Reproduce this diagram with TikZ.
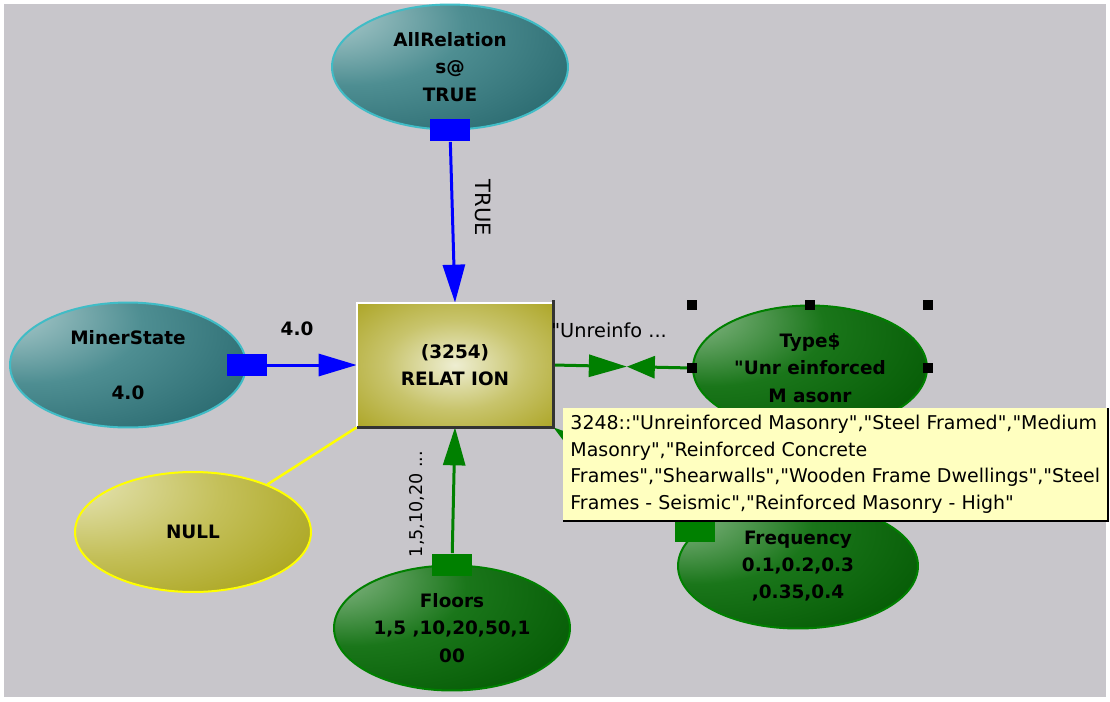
\documentclass[tikz,border=0pt]{standalone}
\usepackage{fontspec}
\setmainfont{DejaVu Sans}[Ligatures=TeXOff]
\usetikzlibrary{arrows.meta,backgrounds,calc,positioning,shapes.geometric}

\definecolor{bggray}{RGB}{200,198,203}
\definecolor{tealhi}{RGB}{214,230,230}
\definecolor{tealmid}{RGB}{78,142,146}
\definecolor{tealdk}{RGB}{34,98,104}
\definecolor{tealrim}{RGB}{64,188,198}
\definecolor{grnhi}{RGB}{205,226,205}
\definecolor{grnmid}{RGB}{26,118,26}
\definecolor{grndk}{RGB}{0,84,0}
\definecolor{grnrim}{RGB}{0,128,0}
\definecolor{olvhi}{RGB}{244,244,222}
\definecolor{olvmid}{RGB}{196,192,90}
\definecolor{olvdk}{RGB}{164,158,16}
\definecolor{olvrim}{RGB}{255,255,0}
\definecolor{relhi}{RGB}{238,238,210}
\definecolor{relmid}{RGB}{200,196,108}
\definecolor{reldk}{RGB}{166,158,22}
\definecolor{tipyel}{RGB}{255,255,192}
\definecolor{lnblue}{RGB}{0,0,255}
\definecolor{lngreen}{RGB}{0,128,0}
\definecolor{lnyel}{RGB}{255,255,0}

\pgfdeclareradialshading{tealball}{\pgfpoint{-30bp}{24bp}}{color(0bp)=(tealhi); color(9bp)=(tealhi!50!tealmid); color(24bp)=(tealmid); color(50bp)=(tealdk); color(80bp)=(tealdk)}
\pgfdeclareradialshading{grnball}{\pgfpoint{-30bp}{24bp}}{color(0bp)=(grnhi); color(9bp)=(grnhi!45!grnmid); color(24bp)=(grnmid); color(50bp)=(grndk); color(80bp)=(grndk)}
\pgfdeclareradialshading{olvball}{\pgfpoint{-30bp}{24bp}}{color(0bp)=(olvhi); color(10bp)=(olvhi!50!olvmid); color(26bp)=(olvmid); color(50bp)=(olvdk); color(80bp)=(olvdk)}
\pgfdeclareradialshading{relshade}{\pgfpoint{0bp}{0bp}}{color(0bp)=(relhi); color(18bp)=(relmid); color(40bp)=(reldk); color(80bp)=(reldk)}

\begin{document}
\begin{tikzpicture}[x=0.02cm,y=-0.02cm]
\tikzstyle{lbl}=[font=\bfseries\fontsize{10.5}{15.6}\selectfont,align=center,inner sep=0pt]
\tikzstyle{bubble}=[ellipse,lbl,minimum width=4.72cm,minimum height=2.5cm,line width=0.04cm]
\tikzstyle{tealnode}=[bubble,draw=tealrim,shading=tealball]
\tikzstyle{grnnode}=[bubble,draw=grnrim,shading=grnball]
\tikzstyle{olvnode}=[bubble,draw=olvrim,shading=olvball]
\tikzstyle{relbox}=[rectangle,lbl,minimum width=3.92cm,minimum height=2.48cm,shading=relshade]
\tikzstyle{plug}=[rectangle,inner sep=0pt,minimum width=0.8cm,minimum height=0.44cm]
\tikzstyle{grip}=[rectangle,fill=black,inner sep=0pt,minimum size=0.2cm]
\tikzstyle{blueline}=[draw=lnblue,line width=0.06cm,-{Triangle[length=0.76cm,width=0.44cm]}]
\tikzstyle{greenline}=[draw=lngreen,line width=0.06cm,-{Triangle[length=0.76cm,width=0.44cm]}]
\tikzstyle{yelline}=[draw=lnyel,line width=0.05cm]
\tikzstyle{elbl}=[font=\fontsize{11}{13}\selectfont,inner sep=0pt]
\tikzstyle{tipbox}=[rectangle,fill=tipyel,anchor=north west,align=left,
  minimum width=10.88cm,minimum height=2.24cm,inner xsep=0.1cm,inner ysep=0pt,
  font=\fontsize{10.8}{15.1}\selectfont]

\useasboundingbox (0,0) rectangle (1110,701);

% nodes
\node[tealnode] (allrel) at (450,67) {AllRelation\\s@\\TRUE};
\node[tealnode] (miner) at (128,365) {MinerState\\~\\4.0};
\node[olvnode,minimum height=2.4cm] (null) at (193,532) {NULL};
\node[relbox] (rel) at (455,365) {(3254)\\RELAT ION};
\node[grnnode] (floors) at (452,628) {Floors\\1,5 ,10,20,50,1\\00};
\node[grnnode,minimum width=4.68cm] (type) at (810,368) {Type\$\\"Unr einforced\\M asonr};
\node[grnnode,minimum width=4.8cm] (freq) at (798,566) {Frequency\\0.1,0.2,0.3\\,0.35,0.4};

% bevel of the relation box
\draw[white,line width=0.04cm] (rel.south west) |- (rel.north east);
\draw[black!80,line width=0.06cm] (rel.south west) -- (rel.south east) -- ($(rel.north east)+(0,-3)$);

% connector ends
\node[plug,fill=lnblue] (allrelp) at (allrel.south) {};
\node[plug,fill=lnblue] (minerp) at (miner.east) {};
\node[plug,fill=lngreen] (floorsp) at (floors.north) {};
\node[plug,fill=lngreen] (freqp) at (695,531) {};

% edge labels
\node[elbl,font=\fontsize{12}{14}\selectfont,rotate=-90] (truelbl) at (483,208) {TRUE};
\node[elbl,font=\bfseries\fontsize{10.5}{13}\selectfont] (minerlbl) at (297,329) {4.0};
\node[elbl,anchor=west] (typelbl) at (551,330) {"Unreinfo ...};
\node[elbl,font=\fontsize{10}{12}\selectfont,rotate=90] (floorslbl) at (417,504) {1,5,10,20 ...};

% selection handles
\foreach \p [count=\i] in {{type.west |- type.north},type.north,{type.east |- type.north},
  type.west,type.east,{type.west |- type.south},type.south,{type.east |- type.south}}
  \node[grip] (grip\i) at (\p) {};

% tooltip
\node[tipbox] (tooltip) at (563,408) {3248::"Unreinforced Masonry","Steel Framed","Medium\\
Masonry","Reinforced Concrete\\
Frames","Shearwalls","Wooden Frame Dwellings","Steel\\
Frames - Seismic","Reinforced Masonry - High"};
\draw[black,line width=0.04cm] (tooltip.south west) -- (tooltip.south east) -- (tooltip.north east);

% connectors
\begin{scope}[on background layer]
\fill[white] (0,0) rectangle (1110,701);
\fill[bggray] (4,4) rectangle (1106,697);
\draw[blueline] (allrelp) -- (rel.north);
\draw[blueline] (minerp) -- (rel.west);
\draw[greenline] (floorsp) -- (rel.south);
\draw[greenline] (freqp) -- (rel.south east);
\draw[yelline] (rel.south west) -- (null);
\path (rel.east) -- (type.west) coordinate[pos=0.53] (typemid);
\draw[greenline] (rel.east) -- (typemid);
\draw[greenline,-{Triangle[length=0.56cm,width=0.44cm]}] (type.west) -- (typemid);
\end{scope}
\end{tikzpicture}
\end{document}
